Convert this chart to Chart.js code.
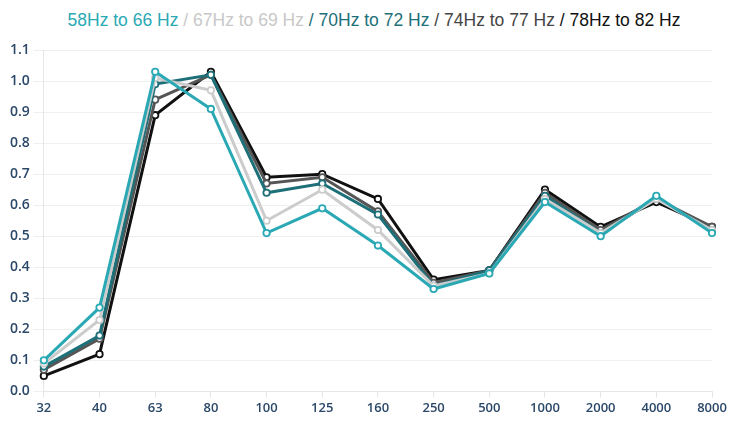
<!DOCTYPE html>
<html>
<head>
<meta charset="utf-8">
<script src="https://cdn.jsdelivr.net/npm/chart.js@4/dist/chart.umd.min.js"></script>
<style>
  body { margin: 0; background: #fff; }
  #wrap { position: relative; width: 732px; height: 421px; }
  #title {
    position: absolute; top: 10px; left: 0; width: 748px; text-align: center;
    font-family: 'Liberation Sans', Arial, sans-serif; font-size: 17.5px; color: #111;
  }
  canvas { position: absolute; top: 0; left: 0; }
</style>
</head>
<body>
<div id="wrap">
  <div id="title">
    <span style="color:#2aa9b5">58Hz to 66 Hz</span>
    <span style="color:#c8c8c8">/ 67Hz to 69 Hz</span>
    <span style="color:#1d6f78">/ 70Hz to 72 Hz</span>
    <span style="color:#444">/ 74Hz to 77 Hz</span>
    <span style="color:#111">/ 78Hz to 82 Hz</span>
  </div>
  <canvas id="chart" width="732" height="421"></canvas>
</div>
<script>
const labels = ['32', '40', '63', '80', '100', '125', '160', '250', '500', '1000', '2000', '4000', '8000'];

const hz58to66 = [0.10, 0.27, 1.03, 0.91, 0.51, 0.59, 0.47, 0.33, 0.38, 0.61, 0.50, 0.63, 0.51];
const hz67to69 = [0.09, 0.23, 1.01, 0.97, 0.55, 0.65, 0.52, 0.34, 0.38, 0.62, 0.51, 0.62, 0.52];
const hz70to72 = [0.08, 0.18, 0.99, 1.02, 0.64, 0.67, 0.57, 0.34, 0.39, 0.63, 0.51, 0.62, 0.52];
const hz74to77 = [0.07, 0.17, 0.94, 1.02, 0.67, 0.69, 0.58, 0.35, 0.39, 0.64, 0.52, 0.62, 0.53];
const hz78to82 = [0.05, 0.12, 0.89, 1.03, 0.69, 0.70, 0.62, 0.36, 0.39, 0.65, 0.53, 0.61, 0.53];

function series(label, data, color) {
  return {
    label: label,
    data: data,
    borderColor: color,
    backgroundColor: '#fff',
    pointBackgroundColor: '#fff',
    pointBorderColor: color,
    pointBorderWidth: 1.8,
    pointRadius: 3.2,
    borderWidth: 3,
    tension: 0,
    fill: false
  };
}

const ctx = document.getElementById('chart').getContext('2d');
new Chart(ctx, {
  type: 'line',
  data: {
    labels: labels,
    datasets: [
      series('58Hz to 66 Hz', hz58to66, '#2aa9b5'),
      series('67Hz to 69 Hz', hz67to69, '#cccccc'),
      series('70Hz to 72 Hz', hz70to72, '#1d6f78'),
      series('74Hz to 77 Hz', hz74to77, '#555555'),
      series('78Hz to 82 Hz', hz78to82, '#111111')
    ]
  },
  options: {
    responsive: false,
    animation: false,
    layout: { padding: { top: 50, right: 20, left: 6, bottom: 2 } },
    plugins: { legend: { display: false }, tooltip: { enabled: false } },
    scales: {
      x: {
        offset: false,
        grid: { drawOnChartArea: false, color: '#e6e6e6', tickLength: 6 },
        border: { color: '#e6e6e6' },
        ticks: { color: '#2b4869', font: { family: "'Open Sans'", size: 13, weight: '600' }, maxRotation: 0 }
      },
      y: {
        min: 0,
        max: 1.1,
        grid: { color: '#efefef', tickLength: 10 },
        border: { color: '#e6e6e6' },
        ticks: {
          stepSize: 0.1,
          color: '#2b4869',
          padding: 4,
          font: { family: "'Open Sans'", size: 14, weight: '600' },
          callback: v => v.toFixed(1)
        }
      }
    }
  }
});
</script>
</body>
</html>
